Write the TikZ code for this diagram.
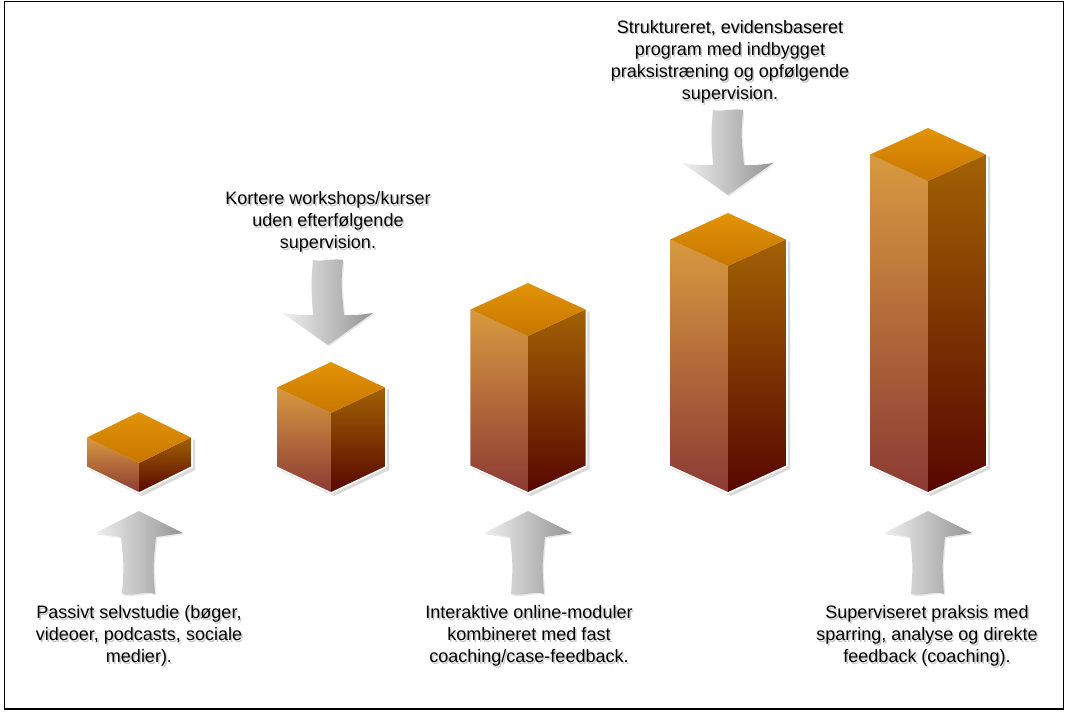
\documentclass[tikz,border=0pt]{standalone}
\usepackage{fontspec}
\setmainfont{Liberation Sans}
\usetikzlibrary{shadows}
\definecolor{topback}{RGB}{226,148,6}
\definecolor{topfront}{RGB}{200,118,0}
\definecolor{lefttop}{RGB}{216,154,64}
\definecolor{leftbot}{RGB}{140,58,52}
\definecolor{righttop}{RGB}{162,98,4}
\definecolor{rightbot}{RGB}{88,6,0}
\tikzset{
  lbl/.style={align=center, inner sep=0pt, font=\fontsize{13.5}{16.6}\selectfont},
  lblshadow/.style={lbl, text=black!22},
  grayarrow/.style={left color=black!6, right color=black!42, draw=none,
    drop shadow={opacity=.18, shadow xshift=1pt, shadow yshift=-1pt}},
  rim/.style={draw=white, line width=1.2pt, line join=round}
}
\begin{document}
\begin{tikzpicture}[x=0.75pt,y=-0.75pt]
  \useasboundingbox (0,0) rectangle (1070,718);
  \draw[line width=0.8pt] (4.5,1.5) rectangle (1063.5,709);
  \foreach \cx/\w/\d/\t in {139/53/26/411, 331/55/26/361, 528/58.5/27/282, 728/59/27/212, 928/59/27/127}{
    \fill[black, opacity=.15] (\cx+3,\t+3) -- (\cx+\w+3,\t+\d+3) -- (\cx+\w+3,496-\d) -- (\cx+3,496) -- (\cx-\w+3,496-\d) -- (\cx-\w+3,\t+\d+3) -- cycle;
    \shade[top color=lefttop, bottom color=leftbot] (\cx-\w,\t+\d) -- (\cx,\t+2*\d) -- (\cx,493) -- (\cx-\w,493-\d) -- cycle;
    \shade[top color=righttop, bottom color=rightbot] (\cx,\t+2*\d) -- (\cx+\w,\t+\d) -- (\cx+\w,493-\d) -- (\cx,493) -- cycle;
    \shade[top color=topback, bottom color=topfront] (\cx,\t) -- (\cx+\w,\t+\d) -- (\cx,\t+2*\d) -- (\cx-\w,\t+\d) -- cycle;
    \draw[rim] (\cx,\t) -- (\cx+\w,\t+\d) -- (\cx+\w,493-\d) -- (\cx,493) -- (\cx-\w,493-\d) -- (\cx-\w,\t+\d) -- cycle;
  }
  \foreach \cx in {139,528,928}{
    \begin{scope}[shift={(\cx,511)}]
      \path[grayarrow] (0,0) -- (44,22) .. controls (30,24) .. (17,26) .. controls (14,55) .. (16,83) .. controls (8,79) and (-6,86) .. (-17,83) .. controls (-15,55) .. (-18,26) .. controls (-30,24) .. (-44,22) -- cycle;
    \end{scope}
  }
  \foreach \cx/\tip in {328/345, 728/195}{
    \begin{scope}[shift={(\cx,\tip)}]
      \path[grayarrow] (0,0) -- (-45,-32) .. controls (-30,-30) .. (-15,-30) .. controls (-17,-60) .. (-15,-85) .. controls (-5,-83) and (5,-87) .. (15,-85) .. controls (13,-60) .. (16,-30) .. controls (30,-30) .. (45,-32) -- cycle;
    \end{scope}
  }
  \node[lblshadow] at (140.5,637.5) {Passivt selvstudie (bøger,\\videoer, podcasts, sociale\\medier).};
  \node[lbl] (passive) at (139,636) {Passivt selvstudie (bøger,\\videoer, podcasts, sociale\\medier).};
  \node[lblshadow] at (329.5,223.5) {Kortere workshops/kurser\\uden efterfølgende\\supervision.};
  \node[lbl] (workshop) at (328,222) {Kortere workshops/kurser\\uden efterfølgende\\supervision.};
  \node[lblshadow] at (530.5,637.5) {Interaktive online-moduler\\kombineret med fast\\coaching/case-feedback.};
  \node[lbl] (online) at (529,636) {Interaktive online-moduler\\kombineret med fast\\coaching/case-feedback.};
  \node[lblshadow] at (731.5,63.5) {Struktureret, evidensbaseret\\program med indbygget\\praksistræning og opfølgende\\supervision.};
  \node[lbl] (program) at (730,62) {Struktureret, evidensbaseret\\program med indbygget\\praksistræning og opfølgende\\supervision.};
  \node[lblshadow] at (928.5,637.5) {Superviseret praksis med\\sparring, analyse og direkte\\feedback (coaching).};
  \node[lbl] (supervised) at (927,636) {Superviseret praksis med\\sparring, analyse og direkte\\feedback (coaching).};
\end{tikzpicture}
\end{document}
